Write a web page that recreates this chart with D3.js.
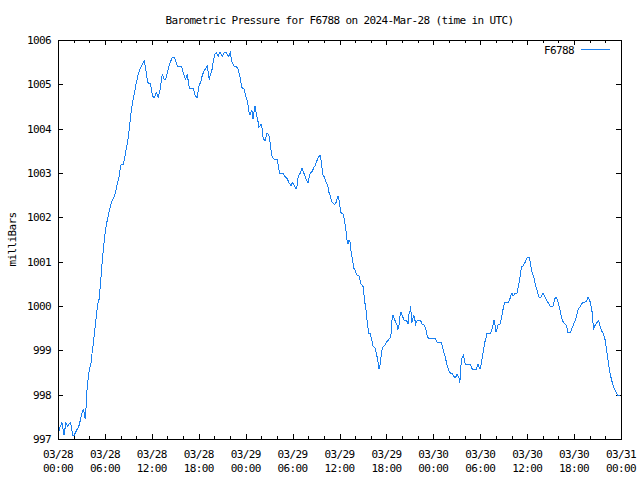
<!DOCTYPE html>
<html>
<head>
<meta charset="utf-8">
<script src="https://cdn.jsdelivr.net/npm/d3@7"></script>
<style>
  html, body { margin: 0; padding: 0; background: #fff; }
  svg { display: block; }
  text { font-family: "DejaVu Sans Mono", "Liberation Mono", monospace; font-size: 11px; letter-spacing: -0.62px; fill: #000; }
</style>
</head>
<body>
<svg id="chart" width="640" height="480"></svg>
<script>
const titleText = "Barometric Pressure for F6788 on 2024-Mar-28 (time in UTC)";
const yLabel = "milliBars";
const seriesName = "F6788";
const startTime = "2024-03-28T00:00:00Z";
const endTime = "2024-03-31T00:00:00Z";
const yTicks = [997, 998, 999, 1000, 1001, 1002, 1003, 1004, 1005, 1006];

// hours since 2024-03-28 00:00 UTC
const hours = [
0.21,0.26,0.38,0.51,0.60,0.77,0.90,1.02,1.24,1.45,1.58,1.71,1.88,2.09,2.30,2.52,2.73,2.94,3.15,3.28,
3.41,3.50,3.58,3.71,3.84,4.01,4.22,4.35,4.52,4.65,4.77,4.90,5.03,5.16,5.29,5.41,5.54,5.67,5.80,5.93,
6.05,6.18,6.31,6.44,6.57,6.69,6.82,6.99,7.20,7.33,7.46,7.59,7.72,7.84,7.97,8.10,8.36,8.48,8.61,8.74,
8.87,8.99,9.12,9.25,9.38,9.51,9.63,9.76,9.89,10.02,10.15,10.27,10.40,10.53,10.66,10.79,10.91,11.04,11.17,11.30,
11.42,11.55,11.81,11.94,12.06,12.19,12.32,12.45,12.58,12.70,12.83,12.96,13.09,13.22,13.34,13.47,13.60,13.73,13.85,13.98,
14.11,14.24,14.37,14.49,14.62,14.88,15.01,15.13,15.26,15.77,15.90,16.03,16.16,16.28,16.41,16.54,16.67,16.80,17.18,17.31,
17.44,17.56,17.82,17.95,18.08,18.20,18.33,18.46,18.59,18.71,18.84,18.97,19.10,19.23,19.35,19.48,19.61,19.74,19.87,19.99,
20.12,20.25,20.38,20.50,20.63,20.76,20.89,21.02,21.14,21.27,21.40,21.53,21.66,21.78,21.91,22.04,
22.13,22.25,22.38,22.51,22.77,22.89,23.02,23.15,23.28,23.40,23.53,23.66,23.79,23.92,24.04,24.17,24.30,24.43,24.55,24.68,
24.81,24.94,25.07,25.19,25.32,25.45,25.58,25.70,25.83,25.96,26.09,26.22,26.34,26.47,26.60,26.73,26.86,26.98,27.11,27.24,
27.37,27.50,27.62,28.01,28.13,28.26,28.39,28.77,28.90,29.03,29.16,29.29,29.41,29.54,29.67,29.80,29.93,30.05,30.18,30.31,
30.44,30.57,30.69,30.82,30.95,31.08,31.21,31.33,31.46,31.59,31.72,31.84,31.97,32.10,32.23,32.36,32.48,32.61,32.74,32.87,
33.00,33.12,33.25,33.38,33.51,33.63,33.76,33.89,34.02,34.15,34.27,34.40,34.53,34.66,34.79,34.91,35.04,35.17,35.30,35.42,
35.55,35.68,35.81,35.94,36.06,36.19,36.32,36.45,36.58,36.70,36.83,36.96,37.09,37.21,37.34,37.47,37.60,37.73,37.85,37.98,
38.11,38.24,38.37,38.49,38.62,38.75,38.88,39.01,39.13,39.26,39.39,39.52,39.64,39.77,39.90,40.03,40.16,40.28,40.41,40.54,
40.67,40.80,40.92,41.05,41.18,41.31,41.44,41.56,41.69,41.82,41.95,42.08,42.20,42.33,42.46,42.59,42.71,42.84,42.97,43.10,
43.23,43.35,43.48,43.61,43.74,43.87,43.99,44.12,44.25,44.51,44.63,44.76,44.89,45.02,45.10,45.23,45.36,45.49,45.61,45.74,
45.87,46.00,
46.30,46.42,46.55,46.81,46.94,47.06,47.19,47.32,47.45,48.21,48.34,48.47,48.98,49.11,49.24,49.37,49.49,49.62,49.75,49.88,
50.01,50.13,50.26,50.39,50.52,50.64,50.77,50.90,51.03,51.16,51.28,51.37,51.46,51.58,51.71,51.84,51.97,52.10,52.69,52.82,
52.95,53.08,53.46,53.59,53.71,53.84,53.97,54.10,54.23,54.35,54.48,54.61,54.74,54.86,55.25,55.38,55.50,55.63,55.76,55.89,
56.02,56.14,56.27,56.53,56.65,56.78,56.91,57.04,57.17,57.29,57.55,57.68,57.81,57.93,58.06,58.19,58.32,58.44,58.70,58.83,
58.96,59.09,59.21,59.34,59.47,59.60,59.72,59.85,59.98,60.11,60.24,60.36,60.49,60.62,60.75,60.88,61.00,61.13,61.26,61.39,
61.51,61.77,61.90,62.03,62.15,62.28,62.41,62.54,62.67,62.79,62.92,63.30,63.43,63.56,63.69,63.82,63.94,64.07,64.20,64.33,
64.46,64.58,64.71,64.84,64.97,65.10,65.22,65.48,65.61,65.74,65.87,65.99,66.12,66.25,66.38,66.51,66.63,66.76,66.89,67.02,
67.14,67.40,67.53,67.66,67.78,67.91,68.04,68.17,68.30,68.38,68.51,68.64,68.76,68.89,69.02,69.15,69.28,69.40,69.53,69.66,
69.79,69.91,70.04,70.17,70.30,70.42,70.55,70.68,70.81,70.94,71.06,71.19,71.32,71.45,71.57,71.87
];

// pressure in millibars
const pressure = [
997.17,997.28,997.32,997.37,997.28,997.09,997.24,997.37,997.28,997.35,997.37,997.28,997.09,997.09,997.17,997.24,997.32,997.50,997.65,997.67,
997.50,997.47,997.69,998.11,998.33,998.56,998.71,998.93,999.16,999.38,999.57,999.76,999.98,1000.10,1000.17,1000.47,1000.74,1001.04,1001.26,1001.49,
1001.68,1001.83,1001.94,1002.05,1002.17,1002.24,1002.33,1002.39,1002.47,1002.54,1002.65,1002.77,1002.84,1002.95,1003.11,1003.20,1003.20,1003.29,1003.44,1003.56,
1003.67,1003.82,1004.01,1004.20,1004.42,1004.57,1004.68,1004.80,1004.91,1005.04,1005.14,1005.23,1005.29,1005.36,1005.41,1005.46,1005.49,1005.53,1005.40,1005.25,
1005.11,1005.01,1005.01,1004.91,1004.76,1004.71,1004.71,1004.76,1004.81,1004.76,1004.71,1004.80,1004.91,1005.11,1005.23,1005.16,1005.11,1005.11,1005.17,1005.25,
1005.36,1005.44,1005.49,1005.56,1005.61,1005.61,1005.55,1005.47,1005.41,1005.41,1005.34,1005.26,1005.19,1005.11,1005.17,1005.21,1005.06,1004.91,1004.91,1004.91,
1004.83,1004.72,1004.71,1004.87,1005.01,1005.01,1005.11,1005.21,1005.26,1005.31,1005.34,1005.38,1005.41,1005.25,1005.11,1005.21,1005.29,1005.36,1005.55,1005.62,
1005.70,1005.71,1005.66,1005.64,1005.70,1005.72,1005.66,1005.64,1005.68,1005.72,1005.72,1005.72,1005.66,1005.62,1005.66,1005.72,
1005.62,1005.51,1005.46,1005.41,1005.41,1005.38,1005.34,1005.25,1005.16,1005.04,1004.93,1004.91,1004.89,1004.81,1004.72,1004.65,1004.53,1004.38,1004.31,1004.38,
1004.41,1004.23,1004.38,1004.51,1004.38,1004.26,1004.16,1004.03,1004.06,1004.11,1004.01,1003.82,1003.76,1003.73,1003.82,1003.89,1003.88,1003.83,1003.71,1003.52,
1003.38,1003.33,1003.31,1003.31,1003.22,1003.07,1002.99,1002.99,1002.95,1002.92,1002.90,1002.88,1002.83,1002.78,1002.75,1002.71,1002.78,1002.77,1002.73,1002.69,
1002.63,1002.71,1002.88,1002.95,1002.99,1003.05,1003.11,1003.05,1002.99,1002.93,1002.86,1002.83,1002.78,1002.88,1002.98,1003.01,1003.03,1003.08,1003.13,1003.16,
1003.22,1003.28,1003.33,1003.37,1003.41,1003.29,1003.11,1002.95,1002.92,1002.86,1002.80,1002.75,1002.69,1002.56,1002.50,1002.41,1002.35,1002.32,1002.30,1002.30,
1002.33,1002.41,1002.48,1002.39,1002.24,1002.11,1002.08,1002.08,1001.98,1001.86,1001.70,1001.49,1001.41,1001.49,1001.45,1001.25,1001.10,1000.96,1000.85,1000.81,
1000.75,1000.70,1000.69,1000.68,1000.59,1000.50,1000.47,1000.44,1000.25,1000.06,999.91,999.68,999.50,999.38,999.38,999.31,999.20,999.10,999.08,999.05,
998.97,998.86,998.74,998.57,998.67,998.86,999.01,999.07,999.10,999.12,999.16,999.20,999.22,999.25,999.27,999.38,999.68,999.80,999.72,999.67,
999.62,999.57,999.47,999.57,999.77,999.87,999.80,999.74,999.68,999.67,999.65,999.59,999.82,999.89,1000.00,999.61,999.70,999.80,999.72,999.59,
999.65,999.68,
999.68,999.65,999.59,999.57,999.53,999.46,999.35,999.29,999.27,999.27,999.23,999.18,999.18,999.12,999.02,998.93,998.87,998.77,998.67,998.59,
998.54,998.50,998.48,998.48,998.44,998.41,998.37,998.41,998.47,998.42,998.37,998.27,998.42,998.80,998.84,998.89,998.78,998.68,998.68,998.65,
998.59,998.57,998.57,998.62,998.68,998.63,998.57,998.68,998.82,998.93,999.07,999.20,999.29,999.38,999.38,999.42,999.47,999.57,999.68,999.57,
999.42,999.47,999.57,999.59,999.67,999.80,999.92,1000.02,1000.08,1000.08,1000.08,1000.12,1000.17,1000.25,1000.29,1000.23,1000.25,1000.29,1000.29,1000.40,
1000.53,1000.65,1000.81,1000.90,1000.90,1000.95,1000.98,1001.04,1001.08,1001.10,1001.10,1001.02,1000.89,1000.77,1000.70,1000.62,1000.53,1000.42,1000.36,1000.27,
1000.20,1000.20,1000.25,1000.29,1000.25,1000.21,1000.15,1000.12,1000.08,1000.05,1000.00,1000.00,1000.08,1000.17,1000.19,1000.15,1000.10,1000.00,999.91,999.80,
999.70,999.65,999.61,999.59,999.57,999.50,999.40,999.40,999.44,999.50,999.55,999.61,999.67,999.74,999.82,999.91,999.95,999.98,1000.02,1000.06,
1000.09,1000.09,1000.10,1000.14,1000.19,1000.15,1000.10,1000.00,999.87,999.68,999.50,999.55,999.59,999.62,999.65,999.68,999.57,999.50,999.44,999.40,
999.35,999.29,999.16,998.99,998.82,998.67,998.52,998.42,998.32,998.24,998.18,998.12,998.07,998.03,997.99,997.99
];

const t0 = new Date(startTime).getTime();
const data = hours.map((h, i) => ({ t: new Date(t0 + h * 3600e3), p: pressure[i] }));

const margin = { left: 58, right: 19, top: 40, bottom: 41 };
const W = 640, H = 480;
const x0 = margin.left, x1 = W - margin.right, y0 = margin.top, y1 = H - margin.bottom;

const x = d3.scaleUtc().domain([new Date(startTime), new Date(endTime)]).range([x0, x1]);
const y = d3.scaleLinear().domain([997, 1006]).range([y1, y0]);

const svg = d3.select("#chart");
svg.append("rect").attr("width", W).attr("height", H).attr("fill", "#fff");

const majorTicks = x.ticks(d3.utcHour.every(6));
const minorTicks = x.ticks(d3.utcHour.every(2)).filter(d => d.getUTCHours() % 6 !== 0);

const g = svg.append("g").attr("shape-rendering", "crispEdges").attr("stroke", "#000");

// minor ticks (bottom and top, inward)
minorTicks.forEach(d => {
  const px = Math.round(x(d)) + 0.5;
  g.append("line").attr("x1", px).attr("x2", px).attr("y1", y1).attr("y2", y1 - 3);
  g.append("line").attr("x1", px).attr("x2", px).attr("y1", y0).attr("y2", y0 + 3);
});
majorTicks.forEach(d => {
  const px = Math.round(x(d)) + 0.5;
  g.append("line").attr("x1", px).attr("x2", px).attr("y1", y1).attr("y2", y1 - 5);
  g.append("line").attr("x1", px).attr("x2", px).attr("y1", y0).attr("y2", y0 + 5);
});
yTicks.forEach(v => {
  const py = Math.round(y(v)) + 0.5;
  g.append("line").attr("x1", x0).attr("x2", x0 + 5).attr("y1", py).attr("y2", py);
  g.append("line").attr("x1", x1).attr("x2", x1 - 5).attr("y1", py).attr("y2", py);
});

// y tick labels
const fmtMD = d3.utcFormat("%m/%d"), fmtHM = d3.utcFormat("%H:%M");
svg.append("g").selectAll("text").data(yTicks).join("text")
  .attr("x", x0 - 7).attr("y", d => Math.round(y(d)) + 4)
  .attr("text-anchor", "end").text(d => d);

// x tick labels (two lines)
const xl = svg.append("g").selectAll("text").data(majorTicks).join("text")
  .attr("text-anchor", "middle");
xl.append("tspan").attr("x", d => x(d)).attr("y", y1 + 19).text(d => fmtMD(d));
xl.append("tspan").attr("x", d => x(d)).attr("y", y1 + 33).text(d => fmtHM(d));

// data line
const line = d3.line().x(d => x(d.t)).y(d => y(d.p));
svg.append("path").datum(data)
  .attr("d", line).attr("fill", "none")
  .attr("stroke", "#1a80f0").attr("stroke-width", 1)
  .attr("shape-rendering", "crispEdges");

// frame
svg.append("rect").attr("x", x0 + 0.5).attr("y", y0 + 0.5)
  .attr("width", x1 - x0).attr("height", y1 - y0)
  .attr("fill", "none").attr("stroke", "#000").attr("shape-rendering", "crispEdges");

// title
svg.append("text").attr("x", (x0 + x1) / 2).attr("y", 24).attr("text-anchor", "middle").text(titleText);

// y label
svg.append("text").attr("transform", `translate(16,${(y0 + y1) / 2}) rotate(-90)`)
  .attr("text-anchor", "middle").text(yLabel);

// legend
svg.append("text").attr("x", 574).attr("y", 54).attr("text-anchor", "end").text(seriesName);
svg.append("line").attr("x1", 581).attr("x2", 610).attr("y1", 49.5).attr("y2", 49.5)
  .attr("stroke", "#1a80f0").attr("shape-rendering", "crispEdges");
</script>
</body>
</html>
